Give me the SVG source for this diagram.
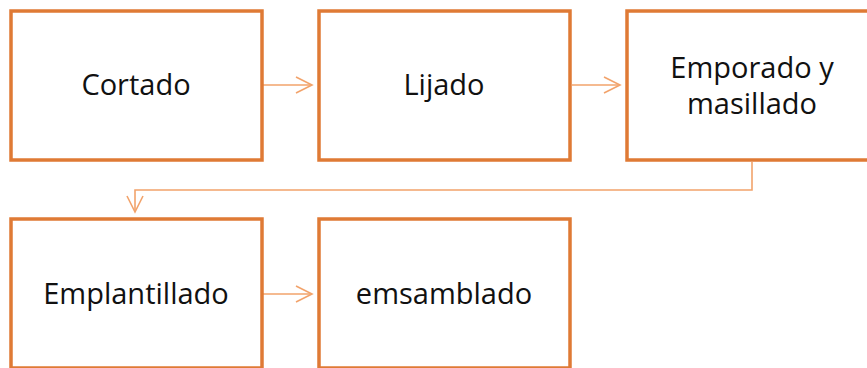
<svg xmlns="http://www.w3.org/2000/svg" width="867" height="368" viewBox="0 0 867 368">
<style>
.box{fill:#fff;stroke:#DF7A35;stroke-width:3.5}
.lbl{font-family:"Open Sans","Noto Sans","Liberation Sans",sans-serif;font-size:29px;fill:#111;text-anchor:middle;dominant-baseline:central}
.con{fill:none;stroke:#F2A36B;stroke-width:1.6}
</style>
<defs>
<marker id="arr" markerWidth="20" markerHeight="20" refX="17" refY="9" orient="auto" markerUnits="userSpaceOnUse">
<path d="M1,1 L17,9 L1,17" fill="none" stroke="#F2A36B" stroke-width="1.6"/>
</marker>
</defs>
<rect width="867" height="368" fill="#fff"/>
<g id="connectors">
<line class="con" x1="263" y1="85" x2="312" y2="85" marker-end="url(#arr)"/>
<line class="con" x1="572" y1="85" x2="620" y2="85" marker-end="url(#arr)"/>
<polyline class="con" points="752,162 752,190 135,190 135,212" marker-end="url(#arr)"/>
<line class="con" x1="263" y1="294" x2="312" y2="294" marker-end="url(#arr)"/>
</g>
<g id="n1"><rect class="box" x="11" y="11" width="251" height="149"/><text class="lbl" x="136" y="83">Cortado</text></g>
<g id="n2"><rect class="box" x="319" y="11" width="251" height="149"/><text class="lbl" x="444" y="83">Lijado</text></g>
<g id="n3"><rect class="box" x="627" y="11" width="251" height="149"/><text class="lbl" x="752" y="66">Emporado y</text><text class="lbl" x="752" y="102">masillado</text></g>
<g id="n4"><rect class="box" x="11" y="219" width="251" height="149"/><text class="lbl" x="136" y="292">Emplantillado</text></g>
<g id="n5"><rect class="box" x="319" y="219" width="251" height="149"/><text class="lbl" x="444" y="292">emsamblado</text></g>
</svg>
